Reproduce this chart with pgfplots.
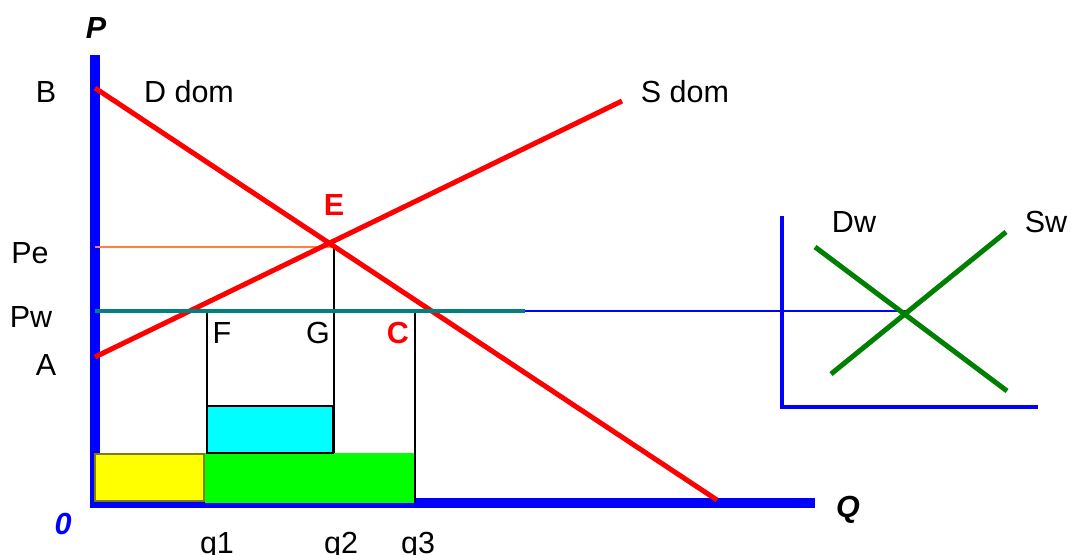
\documentclass[border=0pt]{standalone}
\usepackage{pgfplots}
\pgfplotsset{compat=1.18}
\usepackage{fontspec}
\setmainfont{Liberation Sans}
\definecolor{axblue}{RGB}{0,0,255}
\definecolor{cred}{RGB}{255,0,0}
\definecolor{cteal}{RGB}{0,128,128}
\definecolor{cgreen}{RGB}{0,128,0}
\definecolor{corange}{RGB}{255,128,64}
\definecolor{ccyan}{RGB}{0,255,255}
\definecolor{clime}{RGB}{0,255,0}
\definecolor{cyellow}{RGB}{255,255,0}
\definecolor{colive}{RGB}{128,128,0}

\begin{document}
\begin{tikzpicture}
  \begin{axis}[
      width=1073bp, height=555bp, scale only axis,
      xmin=0, xmax=1073, ymin=0, ymax=555, y dir=reverse,
      hide axis, clip=false,
      every axis plot/.append style={mark=none},
      nodes={font=\fontsize{30.5bp}{34bp}\selectfont, anchor=base, inner sep=0pt}]
    % axes of the domestic market
    \addplot[draw=axblue, line width=10bp] coordinates {(94.5,55) (94.5,503) (815,503)};
    % axes of the world market
    \addplot[draw=axblue, line width=4bp] coordinates {(782,216) (782,407) (1038,407)};
    % areas
    \addplot[fill=cyellow, draw=colive, line width=2bp] coordinates {(95,454) (204,454) (204,501) (95,501)} -- cycle;
    \addplot[fill=clime, draw=none] coordinates {(205,453) (414,453) (414,503) (205,503)} -- cycle;
    \addplot[fill=ccyan, draw=black, line width=2.5bp] coordinates {(207,406) (333,406) (333,453) (207,453)} -- cycle;
    % guide lines
    \addplot[draw=black, line width=2bp] coordinates {(206.5,311) (206.5,406)};
    \addplot[draw=black, line width=2bp] coordinates {(334,247) (334,453)};
    \addplot[draw=black, line width=2bp] coordinates {(415,311) (415,502)};
    \addplot[draw=corange, line width=2.5bp] coordinates {(95,247) (333,247)};
    % domestic demand and supply
    \addplot[draw=cred, line width=5bp] coordinates {(95,88) (717,500)};
    \addplot[draw=cred, line width=5bp] coordinates {(95,357) (622,101)};
    % world price
    \addplot[draw=axblue, line width=2bp] coordinates {(525,311) (908,311)};
    \addplot[draw=cteal, line width=4bp] coordinates {(95,311) (525,311)};
    % world demand and supply
    \addplot[draw=cgreen, line width=5bp] coordinates {(815,247) (1007,391)};
    \addplot[draw=cgreen, line width=5bp] coordinates {(831,374) (1006,232)};
    % labels
    \node at (axis cs:96,39) {\bfseries\itshape P};
    \node at (axis cs:46,103) {B};
    \node at (axis cs:189,103) {D dom};
    \node at (axis cs:685,103) {S dom};
    \node[text=cred] at (axis cs:334,215) {\bfseries E};
    \node at (axis cs:30,263) {Pe};
    \node at (axis cs:31,327) {Pw};
    \node at (axis cs:46,375) {A};
    \node at (axis cs:222,343) {F};
    \node at (axis cs:318,343) {G};
    \node[text=cred] at (axis cs:398,343) {\bfseries C};
    \node[text=axblue] at (axis cs:63,534) {\bfseries\itshape 0};
    \node at (axis cs:217,553) {q1};
    \node at (axis cs:341,553) {q2};
    \node at (axis cs:418,553) {q3};
    \node at (axis cs:848,517) {\bfseries\itshape Q};
    \node at (axis cs:854,232) {Dw};
    \node at (axis cs:1046,232) {Sw};
  \end{axis}
  \pgfresetboundingbox
  \path (0,0) rectangle (1073bp,555bp);
\end{tikzpicture}
\end{document}
